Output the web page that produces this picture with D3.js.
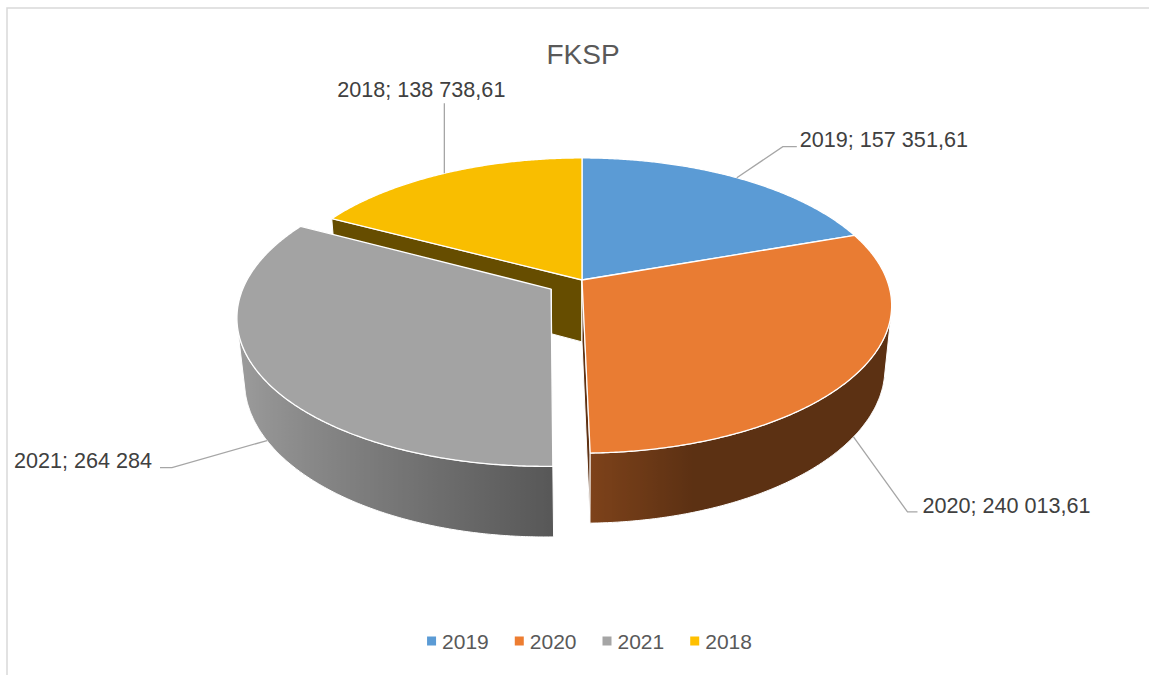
<!DOCTYPE html>
<html><head><meta charset="utf-8">
<script src="https://cdn.jsdelivr.net/npm/d3@7"></script>
<style>body{margin:0;background:#fff;} svg{display:block}</style>
</head><body>
<script>
// ---- data ----
const categories = ["2019", "2020", "2021", "2018"];
const values = [157351.61, 240013.61, 264284, 138738.61];
const labelTexts = ["2019; 157 351,61", "2020; 240 013,61", "2021; 264 284", "2018; 138 738,61"];
const baseColors = ["#5B9BD5", "#ED7D31", "#A5A5A5", "#FFC000"];
const topColors = ["#5B9BD5", "#E97C33", "#A3A3A3", "#F9BE00"];
const exploded = [0, 0, 1, 0];
const chartTitle = "FKSP";

// ---- layout ----
const W = 1149, H = 675;
const svg = d3.select("body").append("svg").attr("width", W).attr("height", H);
svg.append("rect").attr("x", 7).attr("y", 8).attr("width", 1200).attr("height", 700)
  .attr("fill", "#fff").attr("stroke", "#d9d9d9").attr("stroke-width", 1.5);

const FONT = "'Liberation Sans', Arial, sans-serif";
svg.append("text").attr("x", 583).attr("y", 64).attr("text-anchor", "middle")
  .attr("font-family", FONT).attr("font-size", 28).attr("fill", "#595959").text(chartTitle);

// 3D projection
const cx = 582, cy = 280, R = 305, thick = 71.6, alpha = 28 * Math.PI / 180, D = 1558, explodeDist = 36;
const sa = Math.sin(alpha), ca = Math.cos(alpha);
function proj(X, Y, Z) {
  const v = Z * sa - Y * ca;
  const w = D - (Z * ca + Y * sa);
  return [cx + X * D / w, cy + v * D / w, w];
}

const pie = d3.pie().sort(null).value(d => d)(values);
const slices = pie.map((p, i) => {
  const m = (p.startAngle + p.endAngle) / 2;
  const ox = exploded[i] ? explodeDist * Math.sin(m) : 0;
  const oz = exploded[i] ? -explodeDist * Math.cos(m) : 0;
  return {i, s: p.startAngle, e: p.endAngle, m, ox, oz};
});
function rim(sl, t, Y) { return proj(R * Math.sin(t) + sl.ox, Y, -R * Math.cos(t) + sl.oz); }
function apex(sl, Y) { return proj(sl.ox, Y, sl.oz); }

function brightness(t) {
  const s = Math.sin(t);
  if (s < 0) return 0.54 + 0.43 * (-s);
  return 0.54 - 0.15 * Math.min(1, s / 0.3);
}
function scaleColor(c, f) {
  const r = d3.rgb(c);
  return d3.rgb(r.r * f, r.g * f, r.b * f).formatHex();
}

const defs = svg.append("defs");
const sides = [];
const tops = [];
const line = d3.line();

slices.forEach(sl => {
  const N = Math.max(8, Math.ceil((sl.e - sl.s) / (0.4 * Math.PI / 180)));
  const ts = d3.range(N + 1).map(k => sl.s + (sl.e - sl.s) * k / N);
  // top face
  const topPts = [apex(sl, 0)].concat(ts.map(t => rim(sl, t, 0)));
  tops.push({pts: topPts, fill: topColors[sl.i]});
  // outer wall (visible parts)
  const vis = t => (-R - sl.ox * Math.sin(t) - Math.cos(t) * (D * ca - sl.oz)) > 0;
  let run = [];
  const runs = [];
  ts.forEach(t => { if (vis(t)) run.push(t); else { if (run.length > 1) runs.push(run); run = []; } });
  if (run.length > 1) runs.push(run);
  runs.forEach((rn, k) => {
    const upper = rn.map(t => rim(sl, t, 0));
    const lower = rn.map(t => rim(sl, t, -thick)).reverse();
    const pts = upper.concat(lower);
    const xs = upper.map(p => p[0]);
    const x0 = d3.min(xs), x1 = d3.max(xs);
    const gid = "wall" + sl.i + "_" + k;
    const g = defs.append("linearGradient").attr("id", gid).attr("gradientUnits", "userSpaceOnUse")
      .attr("x1", x0).attr("x2", x1).attr("y1", 0).attr("y2", 0);
    const stops = rn.map((t, j) => ({o: (upper[j][0] - x0) / (x1 - x0 || 1), c: scaleColor(baseColors[sl.i], brightness(t))}))
      .sort((a, b) => a.o - b.o);
    g.selectAll("stop").data(stops).join("stop").attr("offset", d => d.o).attr("stop-color", d => d.c);
    sides.push({pts, fill: "url(#" + gid + ")", depth: d3.mean(pts, p => p[2])});
  });
  // cut faces
  const C = [0, D * sa, D * ca];
  const startVis = -(Math.cos(sl.s) * (C[0] - sl.ox) + Math.sin(sl.s) * (C[2] - sl.oz)) > 0;
  const endVis = (Math.cos(sl.e) * (C[0] - sl.ox) + Math.sin(sl.e) * (C[2] - sl.oz)) > 0;
  [[sl.s, startVis], [sl.e, endVis]].forEach(([t, v]) => {
    if (!v) return;
    const pts = [apex(sl, 0), rim(sl, t, 0), rim(sl, t, -thick), apex(sl, -thick)];
    sides.push({pts, fill: scaleColor(baseColors[sl.i], 0.4), depth: d3.mean(pts, p => p[2])});
  });
});

const pieG = svg.append("g");
sides.sort((a, b) => b.depth - a.depth).forEach(f => {
  pieG.append("path").attr("d", line(f.pts.map(p => [p[0], p[1]])) + "Z")
    .attr("fill", f.fill).attr("stroke", "#fff").attr("stroke-width", 1).attr("stroke-linejoin", "round");
});
tops.forEach(f => {
  pieG.append("path").attr("d", line(f.pts.map(p => [p[0], p[1]])) + "Z")
    .attr("fill", f.fill).attr("stroke", "#fff").attr("stroke-width", 1.3).attr("stroke-linejoin", "round");
});

// data labels with leader lines
const labelLayout = [
  {elbow: [46, -31], end: [60, -31], anchor: "start", text: [63, -38]},
  {elbow: [54, 75], end: [64, 75], anchor: "start", text: [69, 68]},
  {elbow: [-95, 27], end: [-107, 27], anchor: "end", text: [-115, 20]},
  {elbow: [0, -70], end: [0, -70], anchor: "middle", text: [-23, -84]}
];
const labG = svg.append("g");
slices.forEach(sl => {
  const front = Math.cos(sl.m) < 0;
  const a = rim(sl, sl.m, front ? -thick : 0);
  const L = labelLayout[sl.i];
  const pts = [[a[0], a[1]], [a[0] + L.elbow[0], a[1] + L.elbow[1]], [a[0] + L.end[0], a[1] + L.end[1]]];
  labG.append("path").attr("d", line(pts)).attr("fill", "none").attr("stroke", "#a6a6a6").attr("stroke-width", 1.3);
  labG.append("text").attr("x", a[0] + L.text[0]).attr("y", a[1] + L.text[1]).attr("dy", "0.36em")
    .attr("text-anchor", L.anchor).attr("font-family", FONT).attr("font-size", 21.6).attr("fill", "#404040")
    .text(labelTexts[sl.i]);
});

// legend
const legG = svg.append("g");
let lx = 0;
const items = categories.map((c, i) => {
  const g = legG.append("g");
  g.append("rect").attr("x", 0).attr("y", -4.5).attr("width", 9).attr("height", 9).attr("fill", baseColors[i]);
  const t = g.append("text").attr("x", 15).attr("y", 0).attr("dy", "0.36em").attr("font-family", FONT)
    .attr("font-size", 21).attr("fill", "#595959").text(c);
  const w = 15 + t.node().getComputedTextLength();
  g.attr("transform", `translate(${lx},0)`);
  lx += w + 26;
  return w;
});
const totalW = lx - 26;
legG.attr("transform", `translate(${589.5 - totalW / 2},641)`);
</script>
</body></html>
